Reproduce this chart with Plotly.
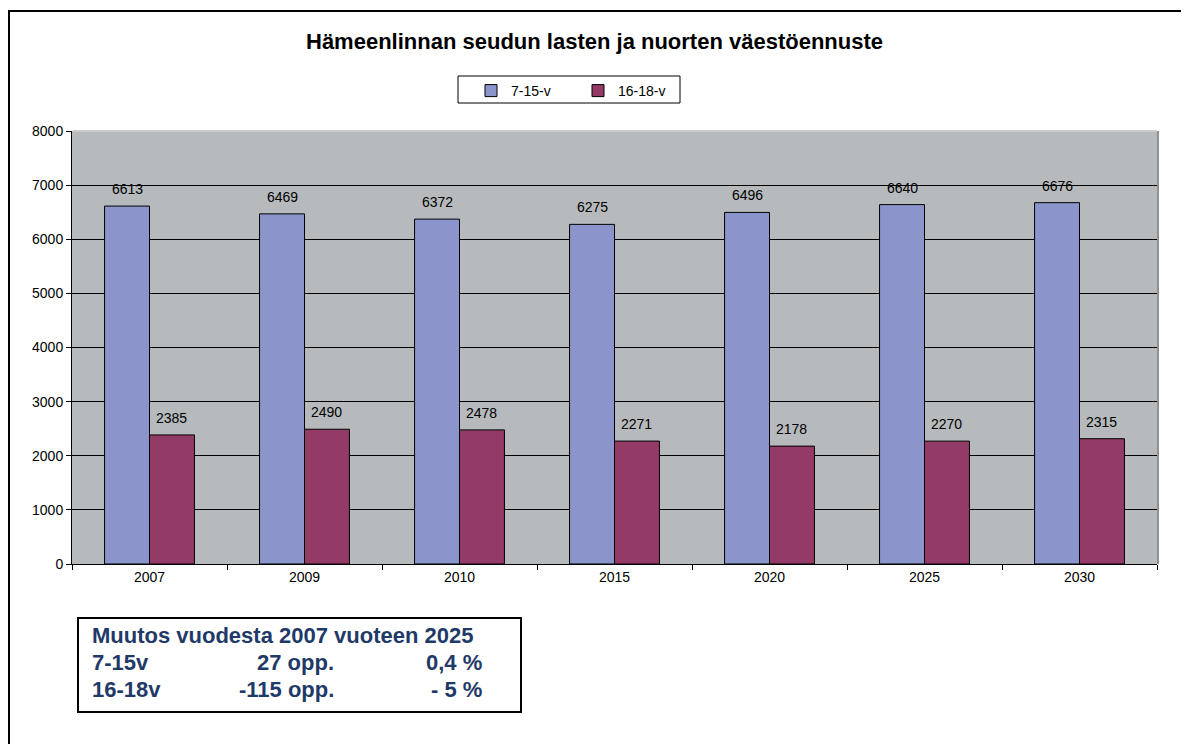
import plotly.graph_objects as go

years = ["2007", "2009", "2010", "2015", "2020", "2025", "2030"]
v7_15 = [6613, 6469, 6372, 6275, 6496, 6640, 6676]
v16_18 = [2385, 2490, 2478, 2271, 2178, 2270, 2315]
series_names = ["7-15-v", "16-18-v"]
y_ticks = [0, 1000, 2000, 3000, 4000, 5000, 6000, 7000, 8000]

title_text = "Hämeenlinnan seudun lasten ja nuorten väestöennuste"
box_title = "Muutos vuodesta 2007 vuoteen 2025"
box_rows = [["7-15v", "27 opp.", "0,4 %"], ["16-18v", "-115 opp.", "- 5 %"]]

# page body has an 8px margin on every side; size the figure so the page never scrolls
OFF = 8
VW, VH = 1189, 752
W, H = VW - 2 * OFF, VH - 2 * OFF
L, R, T, B = 72, 1157, 131, 564        # plot area in window pixels
pw, ph = R - L, B - T
BARGAP = 0.42


def px(X):
    return (X - L) / pw


def py(Y):
    return (B - Y) / ph


FONT = "Liberation Sans, Arial, sans-serif"
blue = "#8B95CB"
purple = "#943A66"
textblue = "#1F3A68"

fig = go.Figure()
fig.add_trace(go.Bar(
    x=years, y=v7_15, name=series_names[0],
    marker=dict(color=blue, line=dict(color="black", width=1)),
))
fig.add_trace(go.Bar(
    x=years, y=v16_18, name=series_names[1],
    marker=dict(color=purple, line=dict(color="black", width=1)),
))

fig.update_layout(
    width=W, height=H,
    margin=dict(l=L - OFF, r=OFF + W - R, t=T - OFF, b=OFF + H - B, autoexpand=False),
    paper_bgcolor="white", plot_bgcolor="#B7BABC",
    barmode="group", bargap=BARGAP, bargroupgap=0,
    font=dict(family=FONT, size=14, color="black"),
    showlegend=True,
    legend=dict(
        orientation="h", x=px(471), xanchor="left", y=py(75), yanchor="top",
        borderwidth=0, bgcolor="rgba(0,0,0,0)",
        font=dict(size=14, family=FONT), entrywidth=62, entrywidthmode="pixels",
    ),
    xaxis=dict(
        type="category", categoryorder="array", categoryarray=years,
        tickson="boundaries", ticks="outside", ticklen=5,
        tickcolor="black", showline=True, linecolor="black", linewidth=1,
        showgrid=False, tickfont=dict(size=14), fixedrange=True,
        range=[-0.5, len(years) - 0.5], tickangle=0,
    ),
    yaxis=dict(
        range=[0, 8000], tickvals=y_ticks, ticks="outside", ticklen=5,
        tickcolor="black", showline=True, linecolor="black", linewidth=1,
        showgrid=True, gridcolor="black", gridwidth=1, zeroline=False,
        tickfont=dict(size=14), fixedrange=True,
    ),
)

shapes = []
# outer frame (continues past the right and bottom edges of the picture)
shapes.append(dict(type="rect", xref="paper", yref="paper",
                   x0=px(9), x1=px(1220), y0=py(11), y1=py(790),
                   line=dict(color="black", width=2), layer="above"))
# top edge of plot area (light) and right shadow
shapes.append(dict(type="line", xref="paper", yref="paper",
                   x0=px(73), x1=px(1157), y0=1, y1=1,
                   line=dict(color="#C9CBCD", width=2)))
shapes.append(dict(type="line", xref="paper", yref="paper",
                   x0=px(1158), x1=px(1158), y0=py(131), y1=py(564),
                   line=dict(color="#8f9294", width=2)))
# legend box
shapes.append(dict(type="rect", xref="paper", yref="paper",
                   x0=px(458), x1=px(680), y0=py(76), y1=py(103),
                   line=dict(color="black", width=1)))
# summary box
shapes.append(dict(type="rect", xref="paper", yref="paper",
                   x0=px(78), x1=px(521), y0=py(618), y1=py(712),
                   line=dict(color="black", width=2), fillcolor="white"))
fig.update_layout(shapes=shapes)

ann = []
# value labels above bars (x given as category index on the category axis)
shift = pw / len(years) * (1 - BARGAP) / 4
for vals, sx in ((v7_15, -shift), (v16_18, shift)):
    for i, v in enumerate(vals):
        ann.append(dict(text=str(v), x=i, y=v, xref="x", yref="y",
                        xanchor="center", yanchor="bottom", xshift=sx, yshift=7,
                        showarrow=False, font=dict(size=14, family=FONT, color="black")))

ann.append(dict(text="<b>" + title_text + "</b>", xref="paper", yref="paper",
                x=px(594), y=py(42), xanchor="center", yanchor="middle",
                showarrow=False, font=dict(size=22, family=FONT, color="black")))
ann.append(dict(text="<b>" + box_title + "</b>", xref="paper", yref="paper",
                x=px(90), y=py(635), xanchor="left", yanchor="middle",
                showarrow=False, font=dict(size=22, family=FONT, color=textblue)))
row_y = [662, 689]
for r, yy in zip(box_rows, row_y):
    ann.append(dict(text="<b>" + r[0] + "</b>", xref="paper", yref="paper",
                    x=px(90), y=py(yy), xanchor="left", yanchor="middle",
                    showarrow=False, font=dict(size=22, family=FONT, color=textblue)))
    ann.append(dict(text="<b>" + r[1] + "</b>", xref="paper", yref="paper",
                    x=px(336), y=py(yy), xanchor="right", yanchor="middle",
                    showarrow=False, font=dict(size=22, family=FONT, color=textblue)))
    ann.append(dict(text="<b>" + r[2] + "</b>", xref="paper", yref="paper",
                    x=px(484), y=py(yy), xanchor="right", yanchor="middle",
                    showarrow=False, font=dict(size=22, family=FONT, color=textblue)))
fig.update_layout(annotations=ann)

fig.write_html("out.html")
